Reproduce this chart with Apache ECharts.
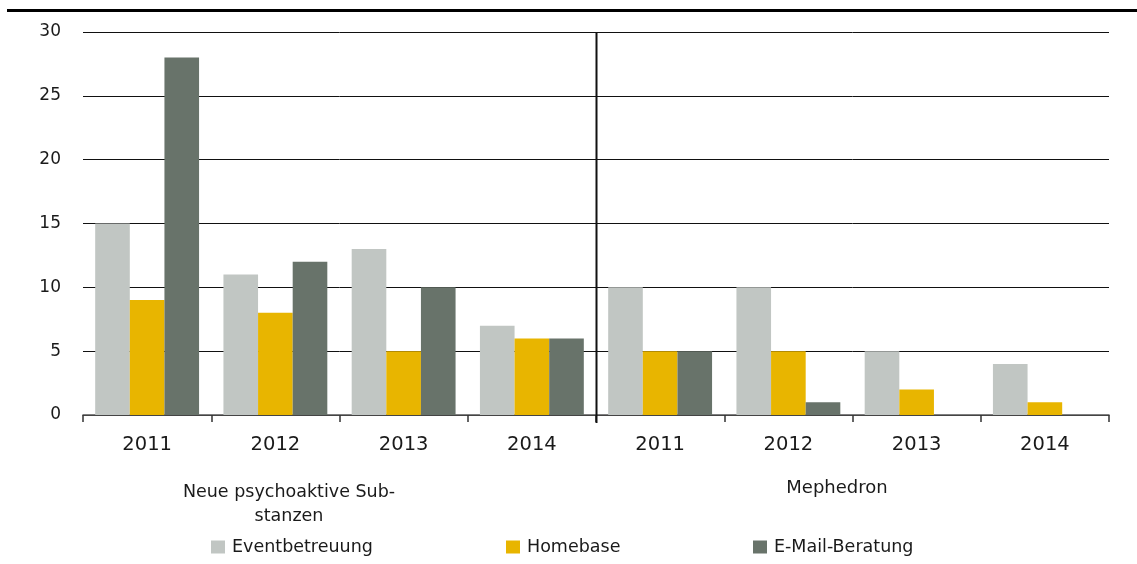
<!DOCTYPE html>
<html>
<head>
<meta charset="utf-8">
<script src="https://cdn.jsdelivr.net/npm/echarts@6/dist/echarts.min.js"></script>
<style>
  html, body { margin: 0; padding: 0; background: #fff; }
  #chart { width: 1137px; height: 564px; }
</style>
</head>
<body>
<div id="chart"></div>
<script>
// Categories: two substance groups, four years each
const years = ['2011', '2012', '2013', '2014'];
const groups = ['Neue psychoaktive Sub-\nstanzen', 'Mephedron'];
const categories = [
  'NPS|2011', 'NPS|2012', 'NPS|2013', 'NPS|2014',
  'MEPH|2011', 'MEPH|2012', 'MEPH|2013', 'MEPH|2014'
];

// Series values (first four: NPS, last four: Mephedron)
const eventbetreuung = [15, 11, 13, 7, 10, 10, 5, 4];
const homebase = [9, 8, 5, 6, 5, 5, 2, 1];
const emailBeratung = [28, 12, 10, 6, 5, 1, 0, 0];

const yTicks = { min: 0, max: 30, interval: 5 };

const FONT = 'DejaVu Sans';
const colors = { event: '#C1C6C3', home: '#E8B500', mail: '#68736A' };

const chart = echarts.init(document.getElementById('chart'), null, { renderer: 'canvas' });

const legendBase = {
  orient: 'horizontal',
  top: 533,
  itemWidth: 14,
  itemHeight: 13,
  itemGap: 7,
  icon: 'rect',
  textStyle: { fontFamily: FONT, fontSize: 17.5, color: '#1a1a1a', padding: [0, 0, 0, 2] },
  selectedMode: false
};

const option = {
  animation: false,
  backgroundColor: '#ffffff',
  grid: { left: 83, right: 28, top: 32, bottom: 149, containLabel: false },
  legend: [
    Object.assign({}, legendBase, { left: 206, data: ['Eventbetreuung'] }),
    Object.assign({}, legendBase, { left: 501, data: ['Homebase'] }),
    Object.assign({}, legendBase, { left: 748, data: ['E-Mail-Beratung'] })
  ],
  xAxis: {
    type: 'category',
    data: categories,
    axisLine: { show: true, lineStyle: { color: '#555555', width: 1.5 } },
    axisTick: { show: true, alignWithLabel: false, interval: 0, length: 7, lineStyle: { color: '#333333', width: 1.5 } },
    axisLabel: {
      interval: 0,
      margin: 20,
      fontFamily: FONT,
      fontSize: 19.5,
      color: '#1a1a1a',
      formatter: v => v.split('|')[1]
    },
    splitLine: { show: false }
  },
  yAxis: {
    type: 'value',
    min: yTicks.min,
    max: yTicks.max,
    interval: yTicks.interval,
    axisLine: { show: false },
    axisTick: { show: false },
    axisLabel: { margin: 22, fontFamily: FONT, fontSize: 17, color: '#1a1a1a' },
    splitLine: { show: true, lineStyle: { color: '#111111', width: 1 } }
  },
  series: [
    { name: 'Eventbetreuung', type: 'bar', data: eventbetreuung, itemStyle: { color: colors.event }, barGap: '0%', barCategoryGap: '19%' },
    { name: 'Homebase', type: 'bar', data: homebase, itemStyle: { color: colors.home }, barGap: '0%', barCategoryGap: '19%' },
    { name: 'E-Mail-Beratung', type: 'bar', data: emailBeratung, itemStyle: { color: colors.mail }, barGap: '0%', barCategoryGap: '19%' }
  ]
};

chart.setOption(option);

// Divider between the two groups, group titles and the top rule
const left4 = chart.convertToPixel({ xAxisIndex: 0 }, categories[3]);
const right4 = chart.convertToPixel({ xAxisIndex: 0 }, categories[4]);
const divX = Math.round((left4 + right4) / 2) + 0.5;
const yTop = chart.convertToPixel({ yAxisIndex: 0 }, yTicks.max);
const yBase = chart.convertToPixel({ yAxisIndex: 0 }, yTicks.min);

chart.setOption({
  graphic: [
    { type: 'rect', shape: { x: 7, y: 9, width: 1130, height: 3 }, style: { fill: '#000' }, silent: true },
    { type: 'line', shape: { x1: divX, y1: yTop, x2: divX, y2: yBase + 8 }, style: { stroke: '#111', lineWidth: 2 }, z: 10, silent: true },
    {
      type: 'text', x: 289, y: 480,
      style: { text: groups[0], fontFamily: FONT, fontSize: 17.5, fill: '#1a1a1a', align: 'center', lineHeight: 24 }
    },
    {
      type: 'text', x: 837, y: 476,
      style: { text: groups[1], fontFamily: FONT, fontSize: 18, fill: '#1a1a1a', align: 'center', lineHeight: 24 }
    }
  ]
});
</script>
</body>
</html>
